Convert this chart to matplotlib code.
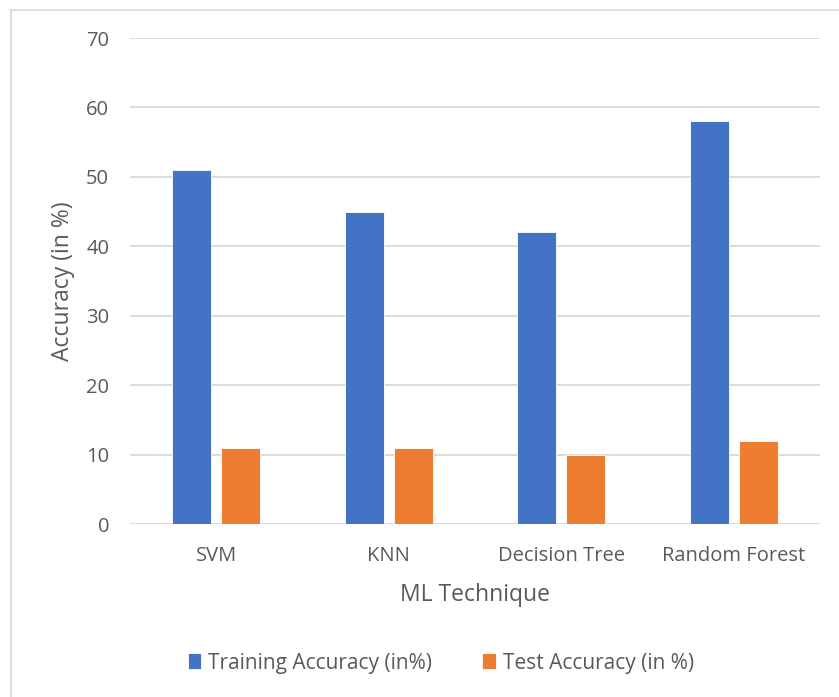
import numpy as np
import matplotlib
matplotlib.use("Agg")
import matplotlib.pyplot as plt
from matplotlib.lines import Line2D

techniques = ["SVM", "KNN", "Decision Tree", "Random Forest"]
train_acc = [51, 45, 42, 58]
test_acc = [11, 11, 10, 12]
yticks = [0, 10, 20, 30, 40, 50, 60, 70]

blue = "#4472C4"
orange = "#ED7D31"
grey_txt = "#595959"
grid_col = "#D9D9D9"

plt.rcParams['font.family'] = ['Open Sans', 'DejaVu Sans']

fig = plt.figure(figsize=(8.39, 6.97), dpi=100)
fig.patch.set_facecolor('white')
ax1 = fig.add_axes([130/839, 1-524/697, 690/839, 486/697])

x = np.arange(len(techniques))
w = 0.226
off = 0.142
ax1.bar(x - off, train_acc, w, color=blue, edgecolor='white', linewidth=0.6,
        label="Training Accuracy (in%)", zorder=3)
ax1.bar(x + off, test_acc, w, color=orange, edgecolor='white', linewidth=0.6,
        label="Test Accuracy (in %)", zorder=3)

ax1.set_xlim(-0.5, len(techniques) - 0.5)
ax1.set_ylim(0, 70)
ax1.set_yticks(yticks)
ax1.set_xticks(x)
ax1.set_xticklabels(techniques)
ax1.tick_params(length=0, labelsize=14.5, colors=grey_txt)
ax1.tick_params(axis='y', pad=15)
ax1.tick_params(axis='x', pad=16)
ax1.grid(axis='y', color=grid_col, linewidth=1.3, zorder=0)
for s in ax1.spines.values():
    s.set_visible(False)
ax1.axhline(0, color=grid_col, linewidth=1.3, zorder=2)

ax1.set_xlabel('ML Technique', fontsize=16.5, color=grey_txt, labelpad=12)
ax1.set_ylabel('Accuracy (in %)', fontsize=16.5, color=grey_txt, labelpad=8)

leg = fig.legend(loc='center', bbox_to_anchor=(441/839, 1-663/697), ncol=2,
                 frameon=False, fontsize=15, handlelength=0.65, handleheight=0.8,
                 handletextpad=0.35, columnspacing=2.4)
for t in leg.get_texts():
    t.set_color(grey_txt)

# outer chart frame
fig.add_artist(Line2D([10/839, 1], [1-9.5/697, 1-9.5/697], color=grid_col,
                      linewidth=1.2, transform=fig.transFigure))
fig.add_artist(Line2D([10.5/839, 10.5/839], [0, 1-9.5/697], color=grid_col,
                      linewidth=1.2, transform=fig.transFigure))

fig.savefig('out.png', dpi=100)
